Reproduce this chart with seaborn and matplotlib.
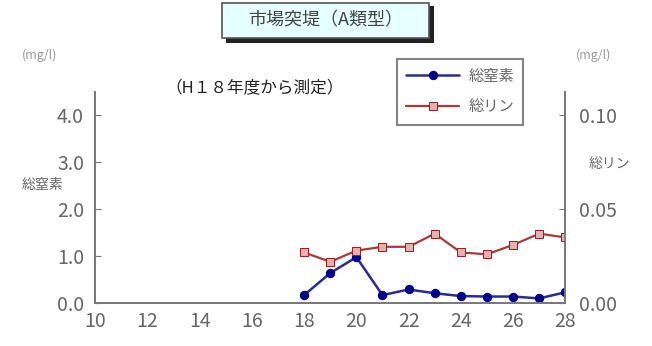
import numpy as np
import pandas as pd
import matplotlib
matplotlib.use('Agg')
import matplotlib.pyplot as plt
import seaborn as sns
from matplotlib.ticker import MultipleLocator
from matplotlib.patches import Rectangle

# data (fiscal year H18 - H28)
years = [18, 19, 20, 21, 22, 23, 24, 25, 26, 27, 28]
nitrogen = [0.17, 0.64, 0.98, 0.17, 0.29, 0.21, 0.15, 0.14, 0.14, 0.10, 0.23]
phosphorus = [0.027, 0.022, 0.028, 0.030, 0.030, 0.037, 0.027, 0.026, 0.031, 0.037, 0.035]
x_ticks = [10, 12, 14, 16, 18, 20, 22, 24, 26, 28]

sns.set_style('white')
plt.rcParams['font.family'] = ['Noto Sans CJK JP', 'DejaVu Sans']
txt = '#666666'

df = pd.DataFrame({'year': years, 'N': nitrogen, 'P': phosphorus})

fig = plt.figure(figsize=(6.52, 3.46), dpi=100)
ax = fig.add_axes([0.146, 0.124, 0.721, 0.61])
ax2 = ax.twinx()

sns.lineplot(data=df, x='year', y='N', ax=ax, color='#2a2a90', marker='o',
             markersize=6, markerfacecolor='#00008b', markeredgecolor='#00008b',
             linewidth=1.8, label='総窒素', legend=False)
sns.lineplot(data=df, x='year', y='P', ax=ax2, color='#a83a3a', marker='s',
             markersize=6, markerfacecolor='#e8b0b0', markeredgecolor='#a02020',
             linewidth=1.6, label='総リン', legend=False)

ax.set_xlim(10, 28)
ax.set_ylim(0, 4.5)
ax2.set_ylim(0, 0.1125)
ax.set_xticks(x_ticks)
ax.xaxis.set_minor_locator(MultipleLocator(1))
ax.set_yticks([0, 1, 2, 3, 4])
ax.set_yticklabels(['0.0', '1.0', '2.0', '3.0', '4.0'])
ax2.set_yticks([0, 0.05, 0.10])
ax2.set_yticklabels(['0.00', '0.05', '0.10'])
ax.set_xlabel('')
ax.set_ylabel('')
ax2.set_ylabel('')

for a in (ax, ax2):
    a.spines['top'].set_visible(False)
    for s in ('left', 'right', 'bottom'):
        a.spines[s].set_color('#777777')
        a.spines[s].set_linewidth(1.2)
    a.tick_params(direction='in', length=4, color='#777777', labelcolor=txt, labelsize=14)
ax.tick_params(axis='x', which='minor', direction='in', length=3, color='#777777')
ax.tick_params(axis='x', pad=6)
ax.tick_params(axis='y', pad=8)
ax2.tick_params(axis='y', pad=10)

fig.text(0.06, 0.83, '(mg/l)', fontsize=9, color='#999999', ha='center')
fig.text(0.91, 0.83, '(mg/l)', fontsize=9, color='#999999', ha='center')
fig.text(0.065, 0.465, '総窒素', fontsize=10, color=txt, ha='center', va='center')
fig.text(0.935, 0.525, '総リン', fontsize=10, color=txt, ha='center', va='center')
fig.text(0.39, 0.745, '（H１８年度から測定）', fontsize=12, color='#222222', ha='center', va='center')

# title box with drop shadow
fig.patches.append(Rectangle((0.347, 0.875), 0.318, 0.108, transform=fig.transFigure,
                             facecolor='#222222', edgecolor='none', zorder=1))
fig.patches.append(Rectangle((0.340, 0.89), 0.318, 0.10, transform=fig.transFigure,
                             facecolor='#e6ffff', edgecolor='#555555', linewidth=1.2, zorder=2))
fig.text(0.499, 0.94, '市場突堤（A類型）', fontsize=13, color='#444444', ha='center', va='center', zorder=3)

h1, l1 = ax.get_legend_handles_labels()
h2, l2 = ax2.get_legend_handles_labels()
leg = ax2.legend(h1 + h2, l1 + l2, loc='upper left', bbox_to_anchor=(0.625, 1.195),
                 frameon=True, fancybox=False, fontsize=11, handlelength=3.5,
                 borderpad=0.6, labelspacing=0.9, handletextpad=0.6)
leg.get_frame().set_edgecolor('#666666')
leg.get_frame().set_linewidth(1.5)
for t in leg.get_texts():
    t.set_color(txt)

fig.savefig('out.png', dpi=100)
